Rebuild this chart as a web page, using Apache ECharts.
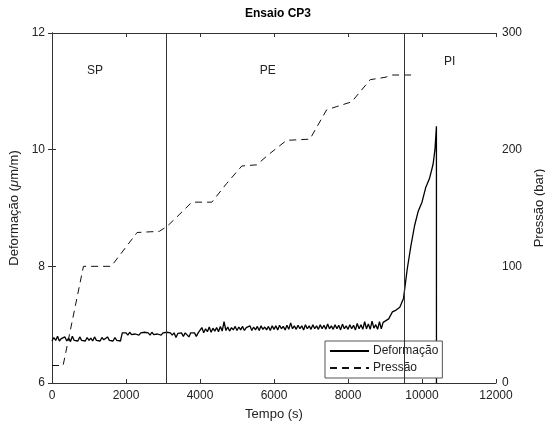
<!DOCTYPE html>
<html><head><meta charset="utf-8">
<script src="https://cdn.jsdelivr.net/npm/echarts@6/dist/echarts.min.js"></script>
<style>html,body{margin:0;padding:0;background:#fff}#c{width:545px;height:428px}</style>
</head><body><div id="c"></div>
<script>
// Deformation, sampled every 50 s from 0 to 8950 s
const deformSampleStep = 50;
const deformSampled = [
  6.72,6.78,6.73,6.80,6.72,6.76,6.73,6.79,6.72,6.77,6.71,6.80,6.73,6.75,6.72,6.79,6.73,6.76,6.72,6.78,
  6.73,6.77,6.72,6.79,6.73,6.75,6.72,6.78,6.74,6.72,6.79,6.73,6.76,6.72,6.78,6.73,6.75,6.72,6.86,6.83,
  6.86,6.82,6.87,6.83,6.86,6.84,6.87,6.82,6.86,6.83,6.87,6.84,6.86,6.82,6.87,6.83,6.86,6.84,6.87,6.82,
  6.86,6.83,6.87,6.84,6.86,6.82,6.86,6.78,6.85,6.83,6.86,6.80,6.86,6.84,6.79,6.86,6.83,6.86,6.80,6.86,
  6.88,6.95,6.86,6.93,6.88,6.96,6.87,6.94,6.89,6.95,6.88,6.97,6.89,7.05,6.90,6.96,6.89,6.95,6.91,6.97,
  6.90,6.96,6.91,6.97,6.90,6.95,6.92,6.98,6.90,6.96,6.91,6.97,6.90,6.98,6.92,6.96,6.91,6.97,6.90,6.98,
  6.92,6.98,6.91,6.99,6.93,6.97,6.91,6.99,6.92,7.03,6.93,6.98,6.92,6.99,6.93,6.98,6.91,7.00,6.93,6.98,
  6.92,7.00,6.93,6.98,6.92,7.00,6.93,6.99,6.92,7.01,6.93,6.98,6.92,7.00,6.93,6.99,6.91,7.01,6.93,6.98,
  6.92,7.00,6.93,6.99,6.91,7.02,6.93,7.00,6.92,7.05,6.93,7.01,6.92,7.06,6.94,7.00,6.92,7.05,6.93,7.04
];
// Deformation in the final (PI) stage
const deformRiseTime  = [9000,9100,9200,9300,9400,9500,9550,9600,9700,9800,9900,10000,10100,10200,10300,10350,10390,10391];
const deformRiseValue = [7.05,7.10,7.22,7.25,7.30,7.45,7.70,7.95,8.35,8.70,8.95,9.10,9.35,9.50,9.75,10.00,10.40,6.0];

const pressTime  = [0,300,850,1600,2300,2900,3100,3300,3780,4320,4720,5130,5530,5900,6340,6970,7420,7700,8100,8600,9000,9200,9810];
const pressValue = [15,15,100,100,129,130,134,140,155,155,171,186,187,197,208,209,234,237,241,260,262,264,264];
const phaseBounds = [3100, 9530];
const phaseLabels = [{name:'SP', t:1160, v:11.35}, {name:'PE', t:5830, v:11.35}, {name:'PI', t:10750, v:11.5}];

const font = 'Liberation Sans, Arial, sans-serif';
const chart = echarts.init(document.getElementById('c'), null, {renderer:'canvas'});
const deform = deformSampled.map((v,i)=>[i*deformSampleStep, v])
  .concat(deformRiseTime.map((t,i)=>[t, deformRiseValue[i]]));
const press = pressTime.map((t,i)=>[t, pressValue[i]]);
const tickStyle = {show:true, inside:true, length:4, lineStyle:{color:'#333'}};
const lblStyle = {fontFamily:font, fontSize:12, color:'#222'};

chart.setOption({
  animation:false,
  backgroundColor:'#fff',
  title:{text:'Ensaio CP3', left:273, top:3, textAlign:'center',
    textStyle:{fontFamily:font, fontSize:12, fontWeight:'bold', color:'#000'}},
  grid:{left:52, right:49, top:33, bottom:45, show:false, containLabel:false, outerBoundsMode:'none'},
  legend:{
    data:['Deformação','Pressão'], orient:'vertical', left:325, top:341,
    itemWidth:39, itemHeight:12, itemGap:5, padding:[4,4,4,4],
    itemStyle:{opacity:0},
    backgroundColor:'#fff', borderColor:'#555', borderWidth:1, borderRadius:0,
    textStyle:{fontFamily:font, fontSize:12, color:'#222', padding:[0,0,0,-1]}
  },
  xAxis:[
    {type:'value', min:0, max:12000, interval:2000, position:'bottom',
     name:'Tempo (s)', nameLocation:'middle', nameGap:25,
     nameTextStyle:{fontFamily:font, fontSize:13, color:'#222'},
     axisLine:{lineStyle:{color:'#333'}}, axisTick:tickStyle,
     axisLabel:Object.assign({margin:7, formatter:v=>String(v)}, lblStyle), splitLine:{show:false}},
    {type:'value', min:0, max:12000, interval:2000, position:'top',
     axisLine:{show:true, lineStyle:{color:'#333'}}, axisTick:tickStyle,
     axisLabel:{show:false}, splitLine:{show:false}}
  ],
  yAxis:[
    {type:'value', min:6, max:12, interval:2, position:'left',
     name:'{a|Deformação (}{b|μ}{a|m/m)}', nameLocation:'middle', nameGap:27, nameRotate:90,
     nameTextStyle:{rich:{a:{fontFamily:font, fontSize:13, color:'#222'}, b:{fontFamily:font, fontSize:13, fontStyle:'italic', color:'#222'}}},
     axisLine:{show:true, lineStyle:{color:'#333'}}, axisTick:tickStyle,
     axisLabel:Object.assign({margin:7}, lblStyle), splitLine:{show:false}},
    {type:'value', min:0, max:300, interval:100, position:'right',
     name:'Pressão (bar)', nameLocation:'middle', nameGap:32, nameRotate:90,
     nameTextStyle:{fontFamily:font, fontSize:13, color:'#222', verticalAlign:'top'},
     axisLine:{show:true, lineStyle:{color:'#333'}}, axisTick:tickStyle,
     axisLabel:Object.assign({margin:6}, lblStyle), splitLine:{show:false}}
  ],
  series:[
    {name:'Deformação', type:'line', data:deform, xAxisIndex:0, yAxisIndex:0,
     showSymbol:false, symbol:'none', lineStyle:{color:'#000', width:1.3}, itemStyle:{color:'#000'},
     markLine:{symbol:'none', silent:true, label:{show:false},
       lineStyle:{color:'#333', width:1, type:'solid'},
       data: phaseBounds.map(t=>({xAxis:t}))},
     markPoint:{symbol:'circle', symbolSize:0, silent:true,
       label:{show:true, position:'inside', fontFamily:font, fontSize:12, color:'#222', formatter:p=>p.name},
       data: phaseLabels.map(p=>({name:p.name, coord:[p.t, p.v]}))}
    },
    {name:'Pressão', type:'line', data:press, xAxisIndex:0, yAxisIndex:1,
     showSymbol:false, symbol:'none', lineStyle:{color:'#111', width:1, type:[7,5]}, itemStyle:{color:'#111'}}
  ]
});
</script></body></html>
